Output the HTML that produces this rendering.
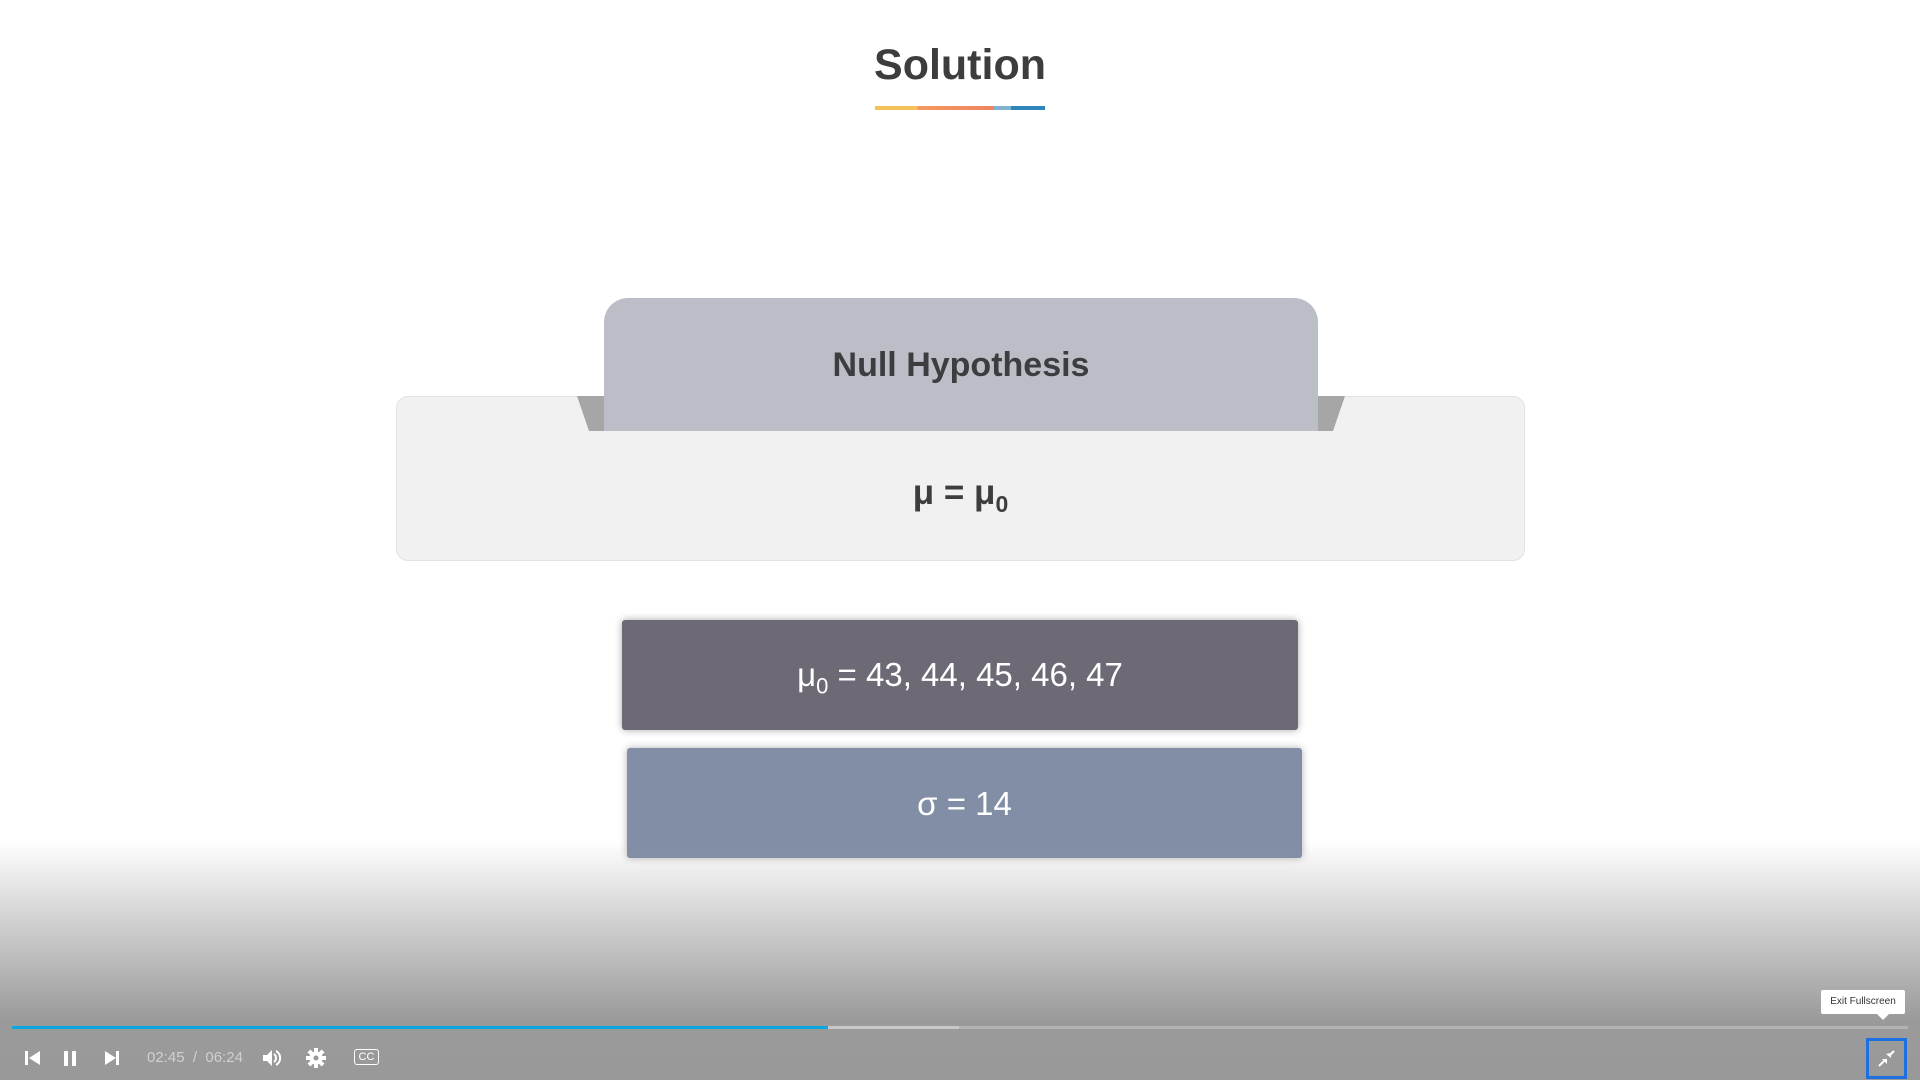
<!DOCTYPE html>
<html><head><meta charset="utf-8"><style>
html,body{margin:0;padding:0;width:1920px;height:1080px;overflow:hidden;background:#fff;font-family:"Liberation Sans","DejaVu Sans",sans-serif;}
.abs{position:absolute;}
</style></head><body>
<div class="abs" style="left:0;top:0;width:1920px;height:1080px;">
  <div class="abs" style="left:0;width:1920px;top:41px;text-align:center;font-size:43px;font-weight:bold;color:#3d3d3f;">Solution</div>
  <div class="abs" style="left:875px;top:106px;width:170px;height:4px;background:linear-gradient(90deg,#f5c25a 0%,#f5c25a 25%,#f29a5e 25%,#f0845f 70%,#7fb3cf 70%,#7fb3cf 80%,#2f86b8 80%);"></div>

  <div class="abs" style="left:396px;top:396px;width:1127px;height:163px;background:#f1f1f1;border:1px solid #e2e2e2;border-radius:12px;"></div>
  <div class="abs" style="left:577px;top:396px;width:0;height:0;border-top:35px solid #a6a6a6;border-left:12px solid transparent;border-right:15px solid #a6a6a6;"></div>
  <div class="abs" style="left:1318px;top:396px;width:0;height:0;border-top:35px solid #a6a6a6;border-right:12px solid transparent;border-left:15px solid #a6a6a6;"></div>
  <div class="abs" style="left:604px;top:298px;width:714px;height:133px;background:#bbbec7;border-radius:24px 24px 0 0;"></div>
  <div class="abs" style="left:604px;top:346px;width:714px;text-align:center;font-size:34px;font-weight:bold;color:#3d3d3f;">Null Hypothesis</div>
  <div class="abs" style="left:396px;top:473px;width:1129px;text-align:center;font-size:35px;font-weight:bold;color:#3d3d3f;">μ = μ<sub style="font-size:23px;">0</sub></div>

  <div class="abs" style="left:622px;top:620px;width:676px;height:110px;background:#6d6a75;border-radius:3px;box-shadow:0 0 8px rgba(0,0,0,0.35);"></div>
  <div class="abs" style="left:622px;top:656px;width:676px;text-align:center;font-size:33px;color:#fff;">μ<sub style="font-size:22px;">0</sub> = 43, 44, 45, 46, 47</div>

  <div class="abs" style="left:627px;top:748px;width:675px;height:110px;background:#818ea6;border-radius:3px;box-shadow:0 0 8px rgba(0,0,0,0.3);"></div>
  <div class="abs" style="left:627px;top:785px;width:675px;text-align:center;font-size:33px;color:#fff;">σ = 14</div>
</div>

<div class="abs" style="left:0;top:840px;width:1920px;height:240px;background:linear-gradient(180deg,rgba(153,153,153,0) 0%,rgba(153,153,153,0.6) 45%,#9a9a9a 75%,#999 100%);"></div>

<div class="abs" style="left:12px;top:1026px;width:1896px;height:3px;background:#b3b3b3;"></div>
<div class="abs" style="left:12px;top:1026px;width:947px;height:3px;background:#c8c8c8;"></div>
<div class="abs" style="left:12px;top:1026px;width:816px;height:3px;background:#0aa6e0;"></div>

<svg class="abs" style="left:24px;top:1049px;" width="18" height="18"><rect x="1" y="2" width="3" height="14" fill="#fff"/><polygon points="16,2 16,16 5,9" fill="#fff"/></svg>
<svg class="abs" style="left:62px;top:1049px;" width="18" height="18"><rect x="2" y="2" width="4" height="15" fill="#fff"/><rect x="10" y="2" width="4" height="15" fill="#fff"/></svg>
<svg class="abs" style="left:103px;top:1049px;" width="18" height="18"><polygon points="2,2 2,16 13,9" fill="#fff"/><rect x="13" y="2" width="3" height="14" fill="#fff"/></svg>
<div class="abs" style="left:147px;top:1049px;font-size:15px;color:#d0d0d0;">02:45 &nbsp;/&nbsp; 06:24</div>
<svg class="abs" style="left:261px;top:1047px;" width="22" height="22"><polygon points="2,8 6,8 11,3 11,19 6,14 2,14" fill="#fff"/><path d="M13,7 A5,5 0 0 1 13,15" stroke="#fff" stroke-width="2" fill="none"/><path d="M15,4 A8,8 0 0 1 15,18" stroke="#fff" stroke-width="2" fill="none"/></svg>
<svg class="abs" style="left:305px;top:1047px;" width="22" height="22"><g fill="#fff" transform="translate(11,11)"><circle r="6.5"/><rect x="-2" y="-10" width="4" height="20"/><rect x="-2" y="-10" width="4" height="20" transform="rotate(45)"/><rect x="-2" y="-10" width="4" height="20" transform="rotate(90)"/><rect x="-2" y="-10" width="4" height="20" transform="rotate(135)"/></g><circle cx="11" cy="11" r="2.5" fill="#999"/></svg>
<div class="abs" style="left:354px;top:1049px;width:23px;height:14px;border:1.5px solid #fff;border-radius:3px;color:#fff;font-size:11px;line-height:14px;text-align:center;">CC</div>

<div class="abs" style="left:1821px;top:990px;width:84px;height:24px;background:#fff;border-radius:2px;font-size:10px;line-height:24px;text-align:center;color:#333;">Exit Fullscreen</div>
<div class="abs" style="left:1877px;top:1014px;width:0;height:0;border-left:6px solid transparent;border-right:6px solid transparent;border-top:6px solid #fff;"></div>
<div class="abs" style="left:1866px;top:1038px;width:35px;height:35px;border:3px solid #1e6fe0;">
  <svg width="35" height="35"><g stroke="#fff" stroke-width="2"><line x1="10" y1="25" x2="15" y2="20"/><line x1="25" y1="10" x2="20" y2="15"/></g><polygon points="13,18 18,18 18,23" fill="#fff"/><polygon points="17,13 22,17 22,12" fill="#fff"/></svg>
</div>
</body></html>
